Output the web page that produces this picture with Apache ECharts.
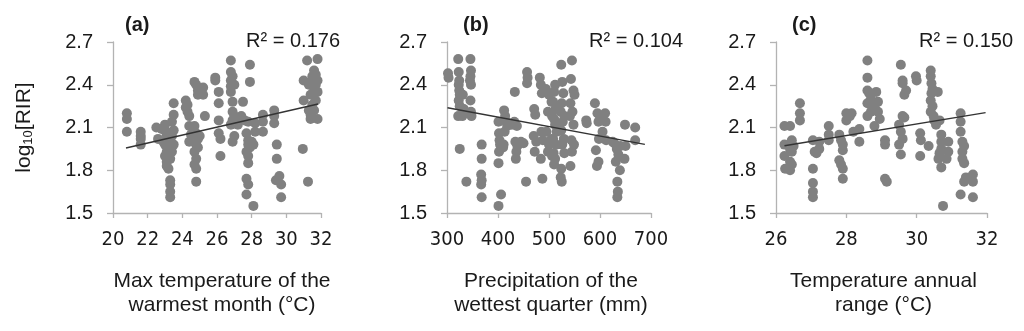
<!DOCTYPE html>
<html><head><meta charset="utf-8">
<script src="https://cdn.jsdelivr.net/npm/echarts@6/dist/echarts.min.js"></script>
<style>html,body{margin:0;padding:0;background:#fff}#c{width:1024px;height:331px}</style>
</head><body><div id="c"></div>
<script>
// ---- data ----
const panelTitles = ['(a)', '(b)', '(c)'];
const r2Labels = ['R\u00b2 = 0.176', 'R\u00b2 = 0.104', 'R\u00b2 = 0.150'];
const xNames = ['Max temperature of the\nwarmest month (\u00b0C)', 'Precipitation of the\nwettest quarter (mm)', 'Temperature annual\nrange (\u00b0C)'];
const yTicks = [1.5, 1.8, 2.1, 2.4, 2.7];
const xTicksA = [20, 22, 24, 26, 28, 30, 32];
const xTicksB = [300, 400, 500, 600, 700];
const xTicksC = [26, 28, 30, 32];

const pointsA = [
[20.8,2.20],[20.8,2.16],[20.8,2.07],
[21.6,2.07],[21.6,2.04],[21.6,2.02],[21.6,1.98],
[22.5,2.10],[22.6,2.02],[22.8,2.09],
[23.0,2.12],[23.0,2.08],[23.1,2.05],[22.9,2.00],[23.0,1.98],[23.1,1.93],[23.0,1.90],[23.1,1.86],[23.1,1.83],[23.2,1.81],[23.3,1.73],[23.3,1.70],[23.3,1.65],[23.3,1.61],
[23.5,2.27],[23.5,2.19],[23.4,2.14],[23.5,2.08],[23.4,2.04],[23.5,1.98],[23.4,1.93],[23.3,1.88],[23.2,1.96],[23.3,2.01],
[24.2,2.29],[24.3,2.26],[24.3,2.21],[24.4,2.18],[24.4,2.11],[24.5,2.05],[24.4,2.00],[24.2,2.24],
[24.7,2.42],[24.8,2.40],[24.9,2.36],[24.9,2.33],[24.7,2.11],[24.8,2.06],[24.9,2.02],[24.8,1.98],[24.7,1.93],[24.8,1.88],[24.7,1.84],[24.8,1.81],[24.8,1.72],[25.0,2.04],[24.9,1.96],
[25.2,2.38],[25.2,2.33],[25.3,2.18],
[25.9,2.45],[25.9,2.43],[26.1,2.35],[26.1,2.27],[26.1,2.15],[26.1,2.06],[26.2,2.02],[26.2,1.90],
[26.8,2.57],[26.8,2.49],[26.9,2.46],[26.8,2.43],[26.8,2.39],[26.8,2.35],[26.9,2.28],[26.9,2.21],[27.0,2.18],[26.9,2.15],[26.8,2.12],[27.0,2.04],[26.9,2.00],[27.0,2.40],[27.0,2.13],
[27.5,2.28],[27.4,2.18],[27.6,2.15],[27.3,2.16],[27.2,2.12],
[27.9,2.54],[27.9,2.42],[27.8,2.14],[27.7,2.06],[27.8,2.01],[27.8,1.98],[27.7,1.93],[27.8,1.90],[27.8,1.85],[27.7,1.74],[27.8,1.70],[27.7,1.63],[27.9,1.96],[28.0,2.00],
[28.2,2.13],[28.2,2.07],[28.1,1.98],[28.1,1.55],
[28.65,2.19],[28.65,2.14],[28.65,2.07],
[29.3,2.22],[29.3,2.18],[29.3,2.13],[29.45,1.98],[29.45,1.88],[29.4,1.73],[29.7,1.70],[29.7,1.61],[29.6,1.76],
[31.0,2.43],[31.0,2.29],[30.95,1.95],[31.25,1.72],[31.2,2.57],
[31.8,2.58],[31.6,2.50],[31.7,2.47],[31.5,2.43],[31.7,2.40],[31.6,2.36],[31.4,2.33],[31.7,2.29],[31.5,2.26],[31.6,2.22],[31.4,2.19],[31.4,2.16],[31.8,2.16],[31.3,2.40],[31.5,2.46],[31.8,2.43],[31.8,2.35],[31.3,2.22]
];

const pointsB = [
[302,2.48],[303,2.45],
[322,2.58],[323,2.49],[324,2.43],[323,2.40],[324,2.36],[325,2.33],[323,2.29],[325,2.25],[322,2.18],[330,2.18],
[333,2.23],[334,2.21],[331,2.33],
[346,2.58],[347,2.50],[346,2.46],[347,2.40],[346,2.29],[347,2.21],[348,2.18],[345,2.43],
[325,1.95],[338,1.72],
[368,1.98],[368,1.88],[367,1.77],[368,1.73],[367,1.70],[368,1.61],
[401,2.14],[402,2.06],[403,2.01],[404,1.98],[402,1.93],[401,1.85],[406,1.63],[401,1.55],
[412,2.22],[414,2.18],[416,2.14],[418,2.11],[413,2.07],[411,1.98],[410,1.96],
[433,2.35],[432,2.14],[437,2.11],[434,2.00],[438,1.97],[436,1.93],[435,1.88],[427,2.12],
[450,1.99],[455,1.72],[445,2.00],
[457,2.49],[458,2.45],[457,2.41],
[471,2.23],[473,2.19],[470,2.04],[475,2.00],[472,1.93],
[482,2.45],[484,2.40],[486,2.34],[485,2.07],[488,2.01],[487,1.74],[484,1.88],
[494,2.37],[500,2.33],[505,2.28],[498,2.21],[510,2.16],[495,2.07],[505,2.02],[500,1.98],[498,1.93],[506,1.90],[510,1.84],
[512,2.40],[510,2.35],[508,2.28],[513,2.23],[506,2.18],[512,2.12],[515,2.07],[508,2.02],[514,1.98],[509,1.92],[512,1.88],
[524,2.54],[526,2.42],[528,2.34],[525,2.27],[523,2.21],[530,2.18],[527,2.14],[524,2.08],[529,2.02],[526,1.98],[530,1.92],[524,1.81],[523,1.75],[525,1.72],
[545,2.57],[543,2.44],[548,2.36],[550,2.33],[542,2.27],[546,2.21],[541,2.18],[548,2.12],[544,2.01],[549,1.98],[545,1.93],[542,1.83],
[573,2.15],[574,2.13],
[590,2.27],[595,2.20],[600,2.18],[597,2.14],[605,2.07],[598,2.02],[592,1.94],[597,1.86],[594,1.83],
[610,2.20],[611,2.14],[612,2.01],
[628,1.99],[633,1.95],[636,1.91],[631,1.86],[639,1.80],[634,1.72],[635,1.65],[634,1.61],[640,1.97],[625,2.00],
[649,2.12],[650,1.97],[648,1.88],
[669,2.10],[669,2.01]
];

const pointsC = [
[26.24,2.11],[26.24,1.98],[26.24,1.90],[26.26,1.81],
[26.4,2.11],[26.45,2.01],[26.4,1.95],[26.45,1.93],[26.4,1.86],[26.45,1.84],[26.4,1.80],[26.5,1.97],
[26.68,2.27],[26.68,2.20],[26.68,2.15],
[27.05,2.01],[27.1,1.93],[27.15,1.92],[27.05,1.81],[27.05,1.71],[27.05,1.65],[27.05,1.61],
[27.23,2.00],[27.23,1.95],
[27.5,2.11],[27.5,2.05],[27.5,2.01],
[27.8,2.05],[27.85,2.01],[27.9,1.98],[27.9,1.94],[27.8,1.87],[27.85,1.84],[27.9,1.81],[27.9,1.74],
[28.0,2.20],[28.0,2.15],[28.1,2.18],[28.2,2.07],[28.15,2.20],
[28.37,2.09],[28.37,2.00],
[28.6,2.57],[28.6,2.45],[28.6,2.36],[28.65,2.34],[28.7,2.30],[28.6,2.27],[28.75,2.23],[28.7,2.21],[28.6,2.18],[28.8,2.11],[28.85,2.35],[28.9,2.28],[28.9,2.21],[28.8,2.25],[28.95,2.16],
[29.1,2.01],[29.1,1.98],[29.1,1.74],[29.15,1.72],
[29.55,2.54],[29.6,2.43],[29.6,2.41],[29.7,2.36],[29.65,2.33],[29.6,2.18],[29.5,2.12],[29.55,2.07],[29.6,2.02],[29.5,1.98],[29.55,1.91],[29.65,2.17],
[29.98,2.46],[30.0,2.43],
[30.1,2.06],[30.12,2.01],[30.1,1.90],
[30.34,1.97],
[30.4,2.50],[30.4,2.46],[30.42,2.41],[30.45,2.37],[30.42,2.34],[30.4,2.29],[30.45,2.25],[30.4,2.21],[30.48,2.18],[30.5,2.15],[30.55,2.12],
[30.6,2.35],[30.65,2.15],[30.7,2.05],[30.7,2.00],[30.7,1.95],[30.65,1.92],[30.62,1.88],[30.7,1.82],
[30.9,2.00],[30.9,1.93],[30.85,1.88],[30.75,1.55],
[31.25,2.20],[31.25,2.14],[31.25,2.07],[31.3,2.00],[31.35,1.97],[31.3,1.93],[31.3,1.88],[31.35,1.85],[31.4,1.75],[31.35,1.72],[31.25,1.63],
[31.6,1.77],[31.6,1.72],[31.6,1.61]
];

const trendA = [[20.75,1.956],[31.83,2.265]];
const trendB = [[301,2.239],[688,1.982]];
const trendC = [[26.24,1.972],[31.96,2.204]];

// ---- chart ----
const grids = [
  {left:113, top:42, width:208, height:171},
  {left:447, top:42, width:204, height:171},
  {left:776, top:42, width:211, height:171}
];
const xTickSets = [xTicksA, xTicksB, xTicksC];
const pointSets = [pointsA, pointsB, pointsC];
const trendSets = [trendA, trendB, trendC];
const titleLeft = [125, 463, 792];
const r2Right = [684, 341, 11];
const nameShift = [10, 4, 4];

const axisColor = '#b3b3b3';
const txt = '#1a1a1a';
const narrow = "'Liberation Sans Narrow','Arial Narrow','DejaVu Sans Condensed',sans-serif";
const sans = "'Liberation Sans',Arial,sans-serif";

const option = {
  animation:false,
  backgroundColor:'#fff',
  title: [],
  grid: grids,
  xAxis: [], yAxis: [], series: []
};
for (let i=0;i<3;i++){
  const xt = xTickSets[i];
  option.title.push({text:panelTitles[i], left:titleLeft[i], top:15, padding:0,
    textStyle:{fontFamily:sans, fontSize:20, fontWeight:'bold', color:txt}});
  option.title.push({text:r2Labels[i], right:r2Right[i], top:31, padding:0,
    textStyle:{fontFamily:sans, fontSize:20, fontWeight:'normal', color:txt}});
  option.xAxis.push({type:'value', gridIndex:i, min:xt[0], max:xt[xt.length-1], interval:xt[1]-xt[0],
    axisLine:{show:true, lineStyle:{color:axisColor, width:1.3}},
    axisTick:{show:true, length:5, lineStyle:{color:axisColor, width:1.3}},
    splitLine:{show:false},
    axisLabel:{margin:17, fontFamily:narrow, fontSize:20, color:txt},
    name:xNames[i], nameLocation:'middle', nameGap:56,
    nameTextStyle:{fontFamily:sans, fontSize:21, lineHeight:24, color:txt, padding:[0,0,0,nameShift[i]]}
  });
  const y = {type:'value', gridIndex:i, min:yTicks[0], max:yTicks[yTicks.length-1], interval:0.3,
    axisLine:{show:true, lineStyle:{color:axisColor, width:1.3}},
    axisTick:{show:true, length:6, lineStyle:{color:axisColor, width:1.3}},
    splitLine:{show:false},
    axisLabel:{margin:20, fontFamily:sans, fontSize:20, color:txt, formatter:v=>v.toFixed(1)}
  };
  if (i===0){
    y.name='{n|log}{s|10}{n|[RIR]}';
    y.nameLocation='middle'; y.nameGap=78; y.nameRotate=90;
    y.nameTextStyle={fontFamily:sans, color:txt, rich:{
      n:{fontFamily:sans, fontSize:21, color:txt},
      s:{fontFamily:sans, fontSize:13, color:txt, padding:[9,0,0,0]}
    }};
  }
  option.yAxis.push(y);
  option.series.push({type:'scatter', xAxisIndex:i, yAxisIndex:i, data:pointSets[i],
    symbolSize:10, itemStyle:{color:'#808080', opacity:1}, z:2});
  option.series.push({type:'line', xAxisIndex:i, yAxisIndex:i, data:trendSets[i],
    showSymbol:false, symbol:'none', lineStyle:{color:'#333', width:1.4}, z:3, silent:true});
}
const chart = echarts.init(document.getElementById('c'), null, {renderer:'canvas'});
chart.setOption(option);
</script>
</body></html>
